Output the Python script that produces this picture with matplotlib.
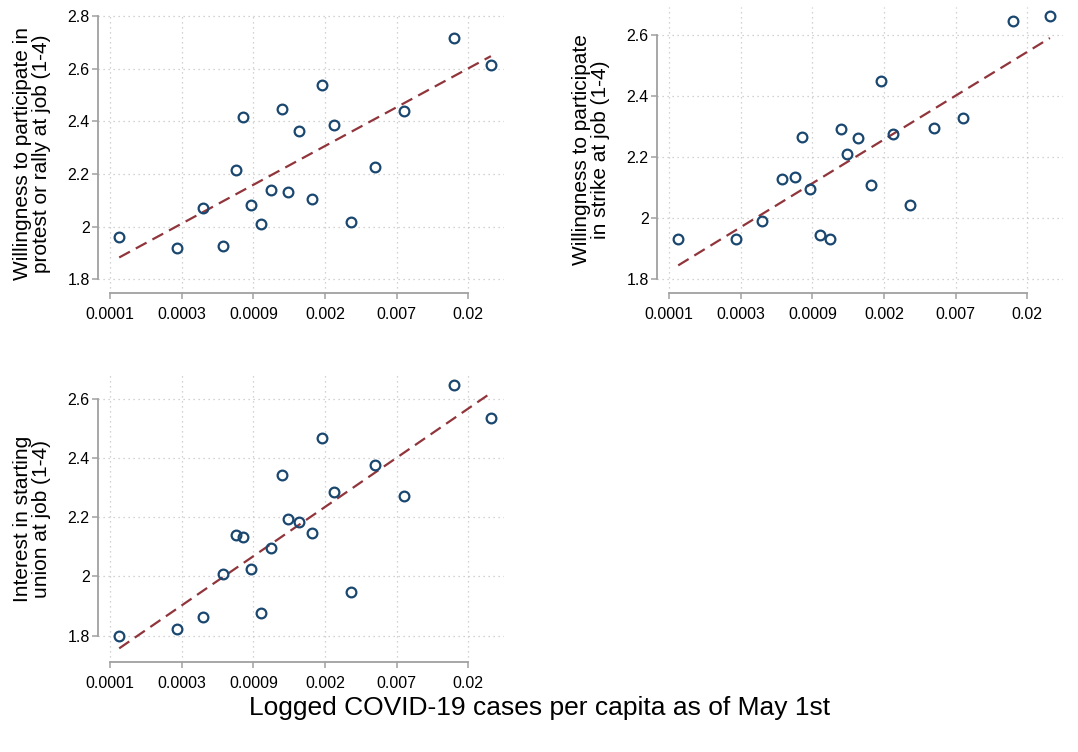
import numpy as np
import matplotlib
matplotlib.use("Agg")
import matplotlib.pyplot as plt

plt.rcParams['font.family'] = ['Liberation Sans', 'DejaVu Sans']

# logged (natural log) COVID-19 cases per capita as of May 1st
log_cases = [-8.874, -8.060, -7.706, -7.422, -7.240, -7.147, -7.035, -6.896, -6.756, -6.598,
             -6.514, -6.360, -6.188, -6.039, -5.881, -5.639, -5.304, -4.903, -4.200, -3.683]

protest = [1.962, 1.918, 2.071, 1.927, 2.214, 2.416, 2.081, 2.009, 2.139, 2.449,
           2.133, 2.363, 2.104, 2.537, 2.385, 2.016, 2.225, 2.439, 2.718, 2.616]
strike = [1.931, 1.931, 1.989, 2.127, 2.135, 2.266, 2.094, 1.945, 1.933, 2.292,
          2.208, 2.263, 2.107, 2.448, 2.275, 2.042, 2.296, 2.326, 2.644, 2.659]
union = [1.799, 1.821, 1.863, 2.008, 2.141, 2.132, 2.025, 1.877, 2.095, 2.344,
         2.195, 2.185, 2.147, 2.467, 2.286, 1.946, 2.375, 2.270, 2.647, 2.536]

# fitted line (slope, intercept)
fit_slopes = [0.1476, 0.1432, 0.1661]
fit_intercepts = [3.192, 3.116, 3.231]

xticks = [-9, -8, -7, -6, -5, -4]
xticklabels = ["0.0001", "0.0003", "0.0009", "0.002", "0.007", "0.02"]

ylabels = ["Willingness to participate in\nprotest or rally at job (1-4)",
           "Willingness to participate\nin strike at job (1-4)",
           "Interest in starting\nunion at job (1-4)"]
yticks = [[1.8, 2.0, 2.2, 2.4, 2.6, 2.8],
          [1.8, 2.0, 2.2, 2.4, 2.6],
          [1.8, 2.0, 2.2, 2.4, 2.6]]
yticklabels = [["1.8", "2", "2.2", "2.4", "2.6", "2.8"],
               ["1.8", "2", "2.2", "2.4", "2.6"],
               ["1.8", "2", "2.2", "2.4", "2.6"]]

W, H = 1078, 752
navy = "#1a476f"
maroon = "#90353b"
spine_col = "#a0a0a0"

fig = plt.figure(figsize=(W / 100, H / 100), dpi=100)

# pixel boxes: left, right, top, bottom  and y limits
boxes = [(98, 504, 15, 293), (657, 1063, 7, 293), (98, 504, 375, 662)]
ylims = [(1.747, 2.805), (1.755, 2.69), (1.711, 2.68)]
series = [protest, strike, union]

x = np.array(log_cases)
for i, ((l, r, t, b), ylim, y) in enumerate(zip(boxes, ylims, series)):
    ax = fig.add_axes([l / W, 1 - b / H, (r - l) / W, (b - t) / H])
    ax.set_xlim(-9.17, -3.5)
    ax.set_ylim(*ylim)
    ax.grid(True, color="#c4c4c4", linestyle=(0, (1, 3)), linewidth=0.9)
    ax.set_axisbelow(True)

    xs = np.array([x.min(), x.max()])
    ax.plot(xs, fit_slopes[i] * xs + fit_intercepts[i], color=maroon, lw=1.6,
            linestyle=(0, (5.5, 3)), zorder=2)
    ax.plot(x, y, 'o', mfc='none', mec=navy, mew=1.6, ms=7, zorder=3)

    ax.set_xticks(xticks)
    ax.set_xticklabels(xticklabels)
    ax.set_yticks(yticks[i])
    ax.set_yticklabels(yticklabels[i])
    for s in ['top', 'right']:
        ax.spines[s].set_visible(False)
    ax.spines['left'].set_bounds(yticks[i][0], yticks[i][-1])
    ax.spines['bottom'].set_bounds(xticks[0], xticks[-1])
    for s in ['left', 'bottom']:
        ax.spines[s].set_color(spine_col)
        ax.spines[s].set_linewidth(1.3)
    ax.tick_params(axis='both', colors=spine_col, labelcolor='black', labelsize=11.5,
                   length=4, width=1.1)
    ax.tick_params(axis='x', pad=6)
    ax.tick_params(axis='y', pad=2)
    ax.text(-66 / (r - l), 0.5, ylabels[i], transform=ax.transAxes, rotation=90,
            ha='center', va='center', fontsize=15, linespacing=0.95)

fig.text(540 / W, 1 - 708 / H, "Logged COVID-19 cases per capita as of May 1st",
         ha='center', va='center', fontsize=19)

fig.savefig("out.png", dpi=100)
